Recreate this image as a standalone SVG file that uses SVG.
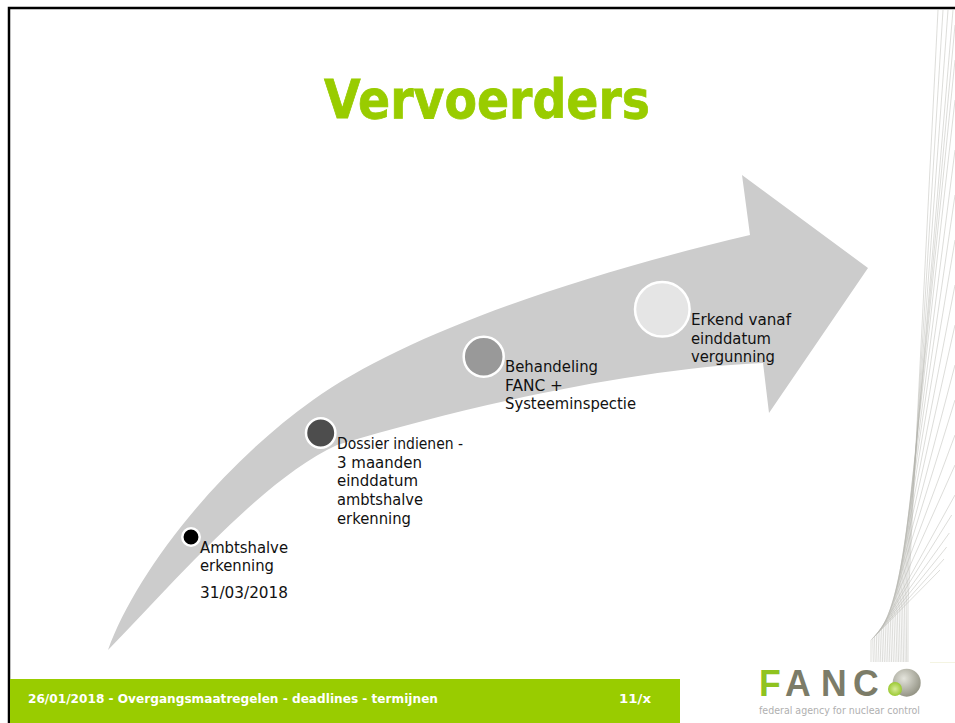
<svg xmlns="http://www.w3.org/2000/svg" width="955" height="723" viewBox="0 0 955 723">
<style>
.t{font-family:"DejaVu Sans","Liberation Sans",sans-serif;font-size:16px;fill:#111}
.f{font-family:"DejaVu Sans","Liberation Sans",sans-serif;font-size:13px;font-weight:700;fill:#fff}
.c{stroke:#fff;stroke-width:2.5}
.s{fill:none;stroke:#b4b4ac;stroke-width:.45}
</style>
<defs>
<radialGradient id="gs" cx=".4" cy=".35" r=".7"><stop offset="0" stop-color="#e4e4dc"/><stop offset="1" stop-color="#8f8f80"/></radialGradient>
<radialGradient id="gg" cx=".5" cy=".5" r=".6"><stop offset="0" stop-color="#d8eb9a"/><stop offset="1" stop-color="#8fc31f"/></radialGradient>
</defs>
<rect width="955" height="723" fill="#fff"/>
<g id="strands">
<path class="s" d="M871 640L940 570M872.8 638.2L944 559M874.5 636.5L946.7 547M876.3 634.7L949.3 533M878 633L951.7 515M879.8 631.2L955 495M881.6 629.4L955 465M883.3 627.7L955 435M885.1 625.9L955 400M886.9 624.1L955 365M888.6 622.4L955 325M890.4 620.6L955 285M892.1 618.9L955 240M893.9 617.1L955 195M895.7 615.3L955 150M897.4 613.6L955 100M899.2 611.8L955 60M901 610L955 25M902.7 608.3L953 10M904.5 606.5L948 10M906.2 604.8L943 10M908 603L938 10"/>
<path class="s" d="M871 640V662M872.8 638.2L873.3 662M874.5 636.5L875.2 662M876.3 634.7L877 662M878 633L879 662M879.8 631.2L880.8 662M881.6 629.4L882.6 662M883.3 627.7L884.4 662M885.1 625.9L886.2 662M886.9 624.1L888 662M888.6 622.4L889.8 662M890.4 620.6L891.6 662M892.1 618.9L893.4 662M893.9 617.1L895.2 662M895.7 615.3L897 662M897.4 613.6L898.6 662M899.2 611.8L900.3 662M901 610L902 662M902.7 608.3L903.6 662M904.5 606.5L905.2 662M906.2 604.8L906.7 662M908 603L908 662"/>
<path d="M930 662.5H955" stroke="#f4f4e2" stroke-width="1"/>
</g>
<path id="border" d="M9 723V8H955" fill="none" stroke="#000" stroke-width="2.5"/>
<text id="title" x="324" y="118" font-family="'DejaVu Sans','Liberation Sans',sans-serif" font-size="54" font-weight="700" fill="#99cc00" stroke="#99cc00" stroke-width=".8" textLength="326" lengthAdjust="spacingAndGlyphs">Vervoerders</text>
<path id="arrow" d="M108 650C135 575 215 470 313 400C400 338 560 280 750 235L742 175L868 268L769 413L763 363C640 368 470 405 337 445C262 480 178 578 108 650Z" fill="#cccccc"/>
<g id="step1">
<circle class="c" cx="191" cy="537" r="8.7" fill="#000"/>
<text class="t" x="200" y="553" textLength="88" lengthAdjust="spacingAndGlyphs">Ambtshalve</text>
<text class="t" x="200" y="571" textLength="74" lengthAdjust="spacingAndGlyphs">erkenning</text>
<text class="t" x="200" y="598" textLength="88" lengthAdjust="spacingAndGlyphs">31/03/2018</text>
</g>
<g id="step2">
<circle class="c" cx="320.7" cy="433" r="14.7" fill="#4d4d4d"/>
<text class="t" x="337" y="449" textLength="126" lengthAdjust="spacingAndGlyphs">Dossier indienen -</text>
<text class="t" x="337" y="468" textLength="85" lengthAdjust="spacingAndGlyphs">3 maanden</text>
<text class="t" x="337" y="486" textLength="81" lengthAdjust="spacingAndGlyphs">einddatum</text>
<text class="t" x="337" y="505" textLength="86" lengthAdjust="spacingAndGlyphs">ambtshalve</text>
<text class="t" x="337" y="524" textLength="74" lengthAdjust="spacingAndGlyphs">erkenning</text>
</g>
<g id="step3">
<circle class="c" cx="483.7" cy="356.7" r="20" fill="#999999"/>
<text class="t" x="505" y="372" textLength="93" lengthAdjust="spacingAndGlyphs">Behandeling</text>
<text class="t" x="505" y="391" textLength="58" lengthAdjust="spacingAndGlyphs">FANC +</text>
<text class="t" x="505" y="409" textLength="131" lengthAdjust="spacingAndGlyphs">Systeeminspectie</text>
</g>
<g id="step4">
<circle class="c" cx="662.3" cy="309.3" r="27.3" fill="#e5e5e5"/>
<text class="t" x="691" y="325" textLength="100" lengthAdjust="spacingAndGlyphs">Erkend vanaf</text>
<text class="t" x="691" y="344" textLength="80" lengthAdjust="spacingAndGlyphs">einddatum</text>
<text class="t" x="691" y="362" textLength="84" lengthAdjust="spacingAndGlyphs">vergunning</text>
</g>
<g id="footer">
<rect x="10" y="679" width="670" height="44" fill="#99cc00"/>
<text class="f" x="28" y="703" textLength="410" lengthAdjust="spacingAndGlyphs">26/01/2018 - Overgangsmaatregelen - deadlines - termijnen</text>
<text class="f" x="619" y="703" textLength="32" lengthAdjust="spacingAndGlyphs">11/x</text>
</g>
<g id="logo">
<text transform="translate(759 696) scale(.95 1)" x="0 27.4 65.3 99" y="0" font-family="'Liberation Sans',sans-serif" font-size="37.5" font-weight="700" fill="#7c7c68"><tspan fill="#8fc31f">F</tspan>ANC</text>
<circle cx="906.7" cy="682.7" r="14" fill="url(#gs)"/>
<circle cx="895" cy="689" r="7" fill="url(#gg)"/>
<text x="759" y="714" font-family="'DejaVu Sans',sans-serif" font-size="10.5" fill="#b0b0b0" textLength="161" lengthAdjust="spacingAndGlyphs">federal agency for nuclear control</text>
</g>
</svg>
